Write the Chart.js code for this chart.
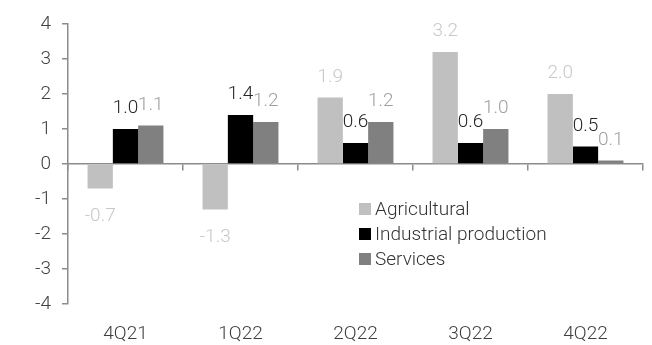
<!DOCTYPE html>
<html>
<head>
<meta charset="utf-8">
<script src="https://cdn.jsdelivr.net/npm/chart.js@4.4.1/dist/chart.umd.min.js"></script>
<style>
  html, body { margin: 0; padding: 0; background: #ffffff; }
  #wrap { width: 652px; height: 345px; position: relative; }
</style>
</head>
<body>
<div id="wrap"><canvas id="c" width="652" height="345"></canvas></div>
<script>
// Quarterly growth contributions by sector
const categories = ['4Q21', '1Q22', '2Q22', '3Q22', '4Q22'];
const agricultural = [-0.7, -1.3, 1.9, 3.2, 2.0];
const industrial = [1.0, 1.4, 0.6, 0.6, 0.5];
const services = [1.1, 1.2, 1.2, 1.0, 0.1];
const seriesNames = ['Agricultural', 'Industrial production', 'Services'];
const yTicks = [-4, -3, -2, -1, 0, 1, 2, 3, 4];

const FONT = 'Roboto, "Liberation Sans", sans-serif';
const barColors = ['#c0c0c0', '#000000', '#808080'];
const labelColors = ['#c8c8c8', '#262626', '#a0a0a0'];

// Value labels above (or below) each bar
const valueLabels = {
  id: 'valueLabels',
  afterDatasetsDraw(chart) {
    const ctx = chart.ctx;
    ctx.save();
    ctx.font = '300 19px ' + FONT;
    ctx.textAlign = 'center';
    ctx.textBaseline = 'alphabetic';
    chart.data.datasets.forEach((ds, i) => {
      const meta = chart.getDatasetMeta(i);
      ctx.fillStyle = labelColors[i];
      meta.data.forEach((bar, j) => {
        const v = ds.data[j];
        const txt = v.toFixed(1);
        const y = v >= 0 ? bar.y - 16 : bar.y + 32;
        ctx.fillText(txt, bar.x, y);
      });
    });
    ctx.restore();
  }
};

// Legend drawn inside the plot area
const innerLegend = {
  id: 'innerLegend',
  afterDraw(chart) {
    const ctx = chart.ctx;
    const x = 359, y0 = 209, step = 25;
    ctx.save();
    ctx.font = '300 19px ' + FONT;
    ctx.textAlign = 'left';
    ctx.textBaseline = 'middle';
    chart.data.datasets.forEach((ds, i) => {
      const y = y0 + i * step;
      ctx.fillStyle = ds.backgroundColor;
      ctx.fillRect(x, y - 6, 12, 12);
      ctx.fillStyle = '#333333';
      ctx.fillText(ds.label, x + 16, y + 1);
    });
    ctx.restore();
  }
};

new Chart(document.getElementById('c'), {
  type: 'bar',
  data: {
    labels: categories,
    datasets: [
      { label: seriesNames[0], data: agricultural, backgroundColor: barColors[0] },
      { label: seriesNames[1], data: industrial, backgroundColor: barColors[1] },
      { label: seriesNames[2], data: services, backgroundColor: barColors[2] }
    ]
  },
  options: {
    responsive: false,
    animation: false,
    devicePixelRatio: 1,
    layout: { padding: { top: 24, right: 9, left: 0, bottom: 0 } },
    datasets: { bar: { categoryPercentage: 0.66, barPercentage: 1.0 } },
    plugins: { legend: { display: false }, tooltip: { enabled: false } },
    scales: {
      x: {
        type: 'category',
        position: 'bottom',
        grid: { display: false, drawTicks: false },
        border: { display: false },
        ticks: { color: '#404040', font: { family: FONT, size: 19, weight: '300' }, padding: 19 },
        afterFit(scale) { scale.height = 41; }
      },
      xZero: {
        type: 'category',
        labels: categories,
        position: { y: 0 },
        offset: true,
        grid: { display: true, offset: true, drawOnChartArea: false, drawTicks: true, tickLength: 6, color: '#8c8c8c', lineWidth: 1.5 },
        border: { display: true, color: '#8c8c8c', width: 1.5 },
        ticks: { display: false }
      },
      y: {
        min: -4,
        max: 4,
        afterBuildTicks(scale) { scale.ticks = yTicks.map(v => ({ value: v })); },
        grid: { display: true, drawOnChartArea: false, drawTicks: true, tickLength: 6, color: '#8c8c8c', lineWidth: 1.5 },
        border: { display: true, color: '#8c8c8c', width: 1.5 },
        ticks: { color: '#404040', font: { family: FONT, size: 19, weight: '300' }, padding: 11 },
        afterFit(scale) { scale.width = 68; }
      }
    }
  },
  plugins: [valueLabels, innerLegend]
});
</script>
</body>
</html>
